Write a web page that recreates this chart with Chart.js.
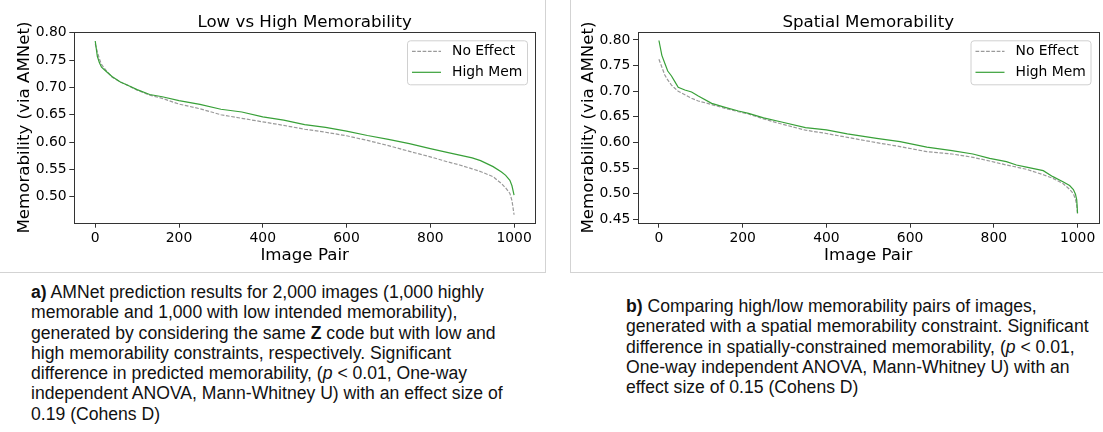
<!DOCTYPE html>
<html lang="en">
<head>
<meta charset="UTF-8">
<title>AMNet memorability</title>
<script src="https://cdn.jsdelivr.net/npm/chart.js"></script>
<style>
body {
	margin: 0;
	background: #fff;
	width: 1103px;
	height: 432px;
	position: relative;
	overflow: hidden;
}

.panel {
	position: absolute;
	top: 0;
	height: 272px;
	border-bottom: 1px solid #d3d3d3;
}

#panelA {
	left: 0;
	width: 545px;
	border-right: 1px solid #d3d3d3;
}

#panelB {
	left: 570px;
	width: 532px;
	border-left: 1px solid #d3d3d3;
}

.caption {
	position: absolute;
	font-family: "Liberation Sans", Arial, sans-serif;
	font-size: 17.6px;
	line-height: 20.3px;
	color: #111;
	white-space: nowrap;
}

#capA {
	left: 31px;
	top: 282px;
}

#capB {
	left: 626px;
	top: 296px;
}
</style>
</head>
<body>
	<div class="panel" id="panelA"><canvas id="chartA" width="545" height="272"></canvas></div>
	<div class="panel" id="panelB"><canvas id="chartB" width="532" height="272"></canvas></div>

	<div class="caption" id="capA"><b>a)</b> AMNet prediction results for 2,000 images (1,000 highly<br>memorable and 1,000 with low intended memorability),<br>generated by considering the same <b>Z</b> code but with low and<br>high memorability constraints, respectively. Significant<br>difference in predicted memorability, (<i>p</i> &lt; 0.01, One-way<br>independent ANOVA, Mann-Whitney U) with an effect size of<br>0.19 (Cohens D)</div>
	<div class="caption" id="capB"><b>b)</b> Comparing high/low memorability pairs of images,<br>generated with a spatial memorability constraint. Significant<br>difference in spatially-constrained memorability, (<i>p</i> &lt; 0.01,<br>One-way independent ANOVA, Mann-Whitney U) with an<br>effect size of 0.15 (Cohens D)</div>

	<script>
	// values (image pair index -> memorability)
	const legendLabels = ['No Effect', 'High Mem'];
	const xTicks = [0, 200, 400, 600, 800, 1000];

	const lowHighIdx = [0, 5, 10, 15, 25, 40, 60, 80, 100, 130, 160, 200, 250, 300, 350, 400, 450, 500, 550, 600, 650, 700, 750, 800, 840, 870, 900, 920, 950, 970, 980, 990, 995, 1000];
	const lowHighNoEffect = [0.780, 0.765, 0.752, 0.742, 0.732, 0.719, 0.710, 0.703, 0.695, 0.686, 0.680, 0.6695, 0.661, 0.650, 0.6435, 0.637, 0.6305, 0.6235, 0.618, 0.6115, 0.603, 0.5935, 0.583, 0.573, 0.564, 0.558, 0.551, 0.546, 0.5366, 0.524, 0.516, 0.506, 0.493, 0.467];
	const lowHighHighMem = [0.785, 0.757, 0.745, 0.737, 0.730, 0.720, 0.710, 0.703, 0.696, 0.687, 0.683, 0.676, 0.669, 0.660, 0.655, 0.646, 0.640, 0.632, 0.627, 0.620, 0.612, 0.605, 0.597, 0.588, 0.581, 0.576, 0.571, 0.566, 0.555, 0.545, 0.539, 0.530, 0.520, 0.503];
	const lowHighYTicks = [0.50, 0.55, 0.60, 0.65, 0.70, 0.75, 0.80];

	const spatialIdx = [0, 7, 14, 21, 30, 38, 46, 62, 78, 94, 126, 158, 190, 214, 250, 293, 350, 400, 450, 520, 576, 640, 700, 750, 790, 830, 854, 878, 918, 941, 965, 981, 990, 995, 998, 1000];
	const spatialNoEffect = [0.7623, 0.747, 0.7317, 0.722, 0.712, 0.7057, 0.700, 0.693, 0.6862, 0.681, 0.674, 0.6665, 0.660, 0.6556, 0.646, 0.636, 0.624, 0.6175, 0.610, 0.5996, 0.592, 0.582, 0.5775, 0.571, 0.5638, 0.556, 0.552, 0.5476, 0.537, 0.530, 0.520, 0.5086, 0.500, 0.489, 0.478, 0.459];
	const spatialHighMem = [0.799, 0.770, 0.7545, 0.7395, 0.7297, 0.7187, 0.7076, 0.7024, 0.6985, 0.6907, 0.6764, 0.6686, 0.6614, 0.6569, 0.648, 0.640, 0.629, 0.6244, 0.6166, 0.6081, 0.6016, 0.591, 0.584, 0.5775, 0.569, 0.5625, 0.556, 0.552, 0.545, 0.5333, 0.5235, 0.516, 0.508, 0.499, 0.488, 0.462];
	const spatialYTicks = [0.45, 0.50, 0.55, 0.60, 0.65, 0.70, 0.75, 0.80];

	Chart.defaults.font.family = "'DejaVu Sans', sans-serif";
	Chart.defaults.color = '#000';

	const grayColor = '#9a9a9a';
	const greenColor = '#38a038';

	// box around the plot like matplotlib spines
	const frame = {
		id: 'frame',
		afterDatasetsDraw(chart) {
			const a = chart.chartArea;
			const ctx = chart.ctx;
			ctx.save();
			ctx.strokeStyle = '#333';
			ctx.lineWidth = 1;
			ctx.strokeRect(Math.round(a.left) + 0.5, Math.round(a.top) + 0.5,
				Math.round(a.right) - Math.round(a.left), Math.round(a.bottom) - Math.round(a.top));
			ctx.restore();
		}
	};

	// legend inside the upper right corner, with a box
	const boxLegend = {
		id: 'boxLegend',
		afterDraw(chart) {
			const a = chart.chartArea;
			const ctx = chart.ctx;
			const w = 120, h = 44;
			const x = a.right - 8 - w, y = a.top + 8;
			ctx.save();
			ctx.fillStyle = 'rgba(255,255,255,0.8)';
			ctx.strokeStyle = '#d0d0d0';
			ctx.lineWidth = 1;
			ctx.beginPath();
			ctx.roundRect(x + 0.5, y + 0.5, w, h, 3);
			ctx.fill();
			ctx.stroke();
			const items = [chart.data.datasets[1], chart.data.datasets[0]];
			ctx.font = "13.9px 'DejaVu Sans'";
			ctx.textBaseline = 'middle';
			ctx.fillStyle = '#000';
			items.forEach((ds, i) => {
				const ry = y + 11 + i * 21;
				ctx.strokeStyle = ds.borderColor;
				ctx.lineWidth = ds.borderWidth;
				ctx.setLineDash(ds.borderDash || []);
				ctx.beginPath();
				ctx.moveTo(x + 5, ry);
				ctx.lineTo(x + 34, ry);
				ctx.stroke();
				ctx.setLineDash([]);
				ctx.fillText(ds.label, x + 45, ry);
			});
			ctx.restore();
		}
	};

	function makeChart(id, title, idx, noEffect, highMem, yTicks, yMin, yMax, yWidth, yTitlePad, rightPad) {
		const ctx = document.getElementById(id).getContext('2d');
		return new Chart(ctx, {
			type: 'line',
			data: {
				datasets: [
					{
						label: legendLabels[1],
						data: idx.map((x, i) => ({x: x, y: highMem[i]})),
						borderColor: greenColor,
						borderWidth: 1.2,
						pointRadius: 0,
						tension: 0
					},
					{
						label: legendLabels[0],
						data: idx.map((x, i) => ({x: x, y: noEffect[i]})),
						borderColor: grayColor,
						borderWidth: 1.2,
						borderDash: [3.7, 1.6],
						pointRadius: 0,
						tension: 0
					}
				]
			},
			options: {
				responsive: false,
				animation: false,
				layout: {
					padding: {left: 0, right: rightPad, top: 0, bottom: 0}
				},
				plugins: {
					legend: {display: false},
					tooltip: {enabled: false},
					title: {
						display: true,
						text: title,
						fullSize: false,
						font: {size: 16.67, weight: 'normal'},
						color: '#000',
						padding: {top: 12.7, bottom: -0.4}
					}
				},
				scales: {
					x: {
						type: 'linear',
						min: -50,
						max: 1050,
						afterBuildTicks: s => { s.ticks = xTicks.map(v => ({value: v})); },
						afterFit: s => { s.height = 49.3; },
						ticks: {
							font: {size: 13.9},
							color: '#000',
							padding: 2,
							maxRotation: 0,
							callback: v => String(v)
						},
						grid: {
							drawOnChartArea: false,
							drawTicks: true,
							tickLength: 5,
							color: '#333'
						},
						border: {display: false},
						title: {
							display: true,
							text: 'Image Pair',
							font: {size: 16.67},
							color: '#000',
							padding: {top: 0, bottom: 6}
						}
					},
					y: {
						type: 'linear',
						min: yMin,
						max: yMax,
						afterBuildTicks: s => { s.ticks = yTicks.map(v => ({value: v})); },
						afterFit: s => { s.width = yWidth; },
						ticks: {
							font: {size: 13.9},
							color: '#000',
							padding: 2.6,
							callback: v => v.toFixed(2)
						},
						grid: {
							drawOnChartArea: false,
							drawTicks: true,
							tickLength: 5,
							color: '#333'
						},
						border: {display: false},
						title: {
							display: true,
							text: 'Memorability (via AMNet)',
							font: {size: 16.67},
							color: '#000',
							padding: {top: yTitlePad, bottom: 0}
						}
					}
				}
			},
			plugins: [frame, boxLegend]
		});
	}

	makeChart('chartA', 'Low vs High Memorability', lowHighIdx, lowHighNoEffect, lowHighHighMem,
		lowHighYTicks, 0.4524, 0.8009, 74.3, 15, 10);
	makeChart('chartB', 'Spatial Memorability', spatialIdx, spatialNoEffect, spatialHighMem,
		spatialYTicks, 0.4434, 0.815, 67, 7.5, 4.5);
	</script>
</body>
</html>
